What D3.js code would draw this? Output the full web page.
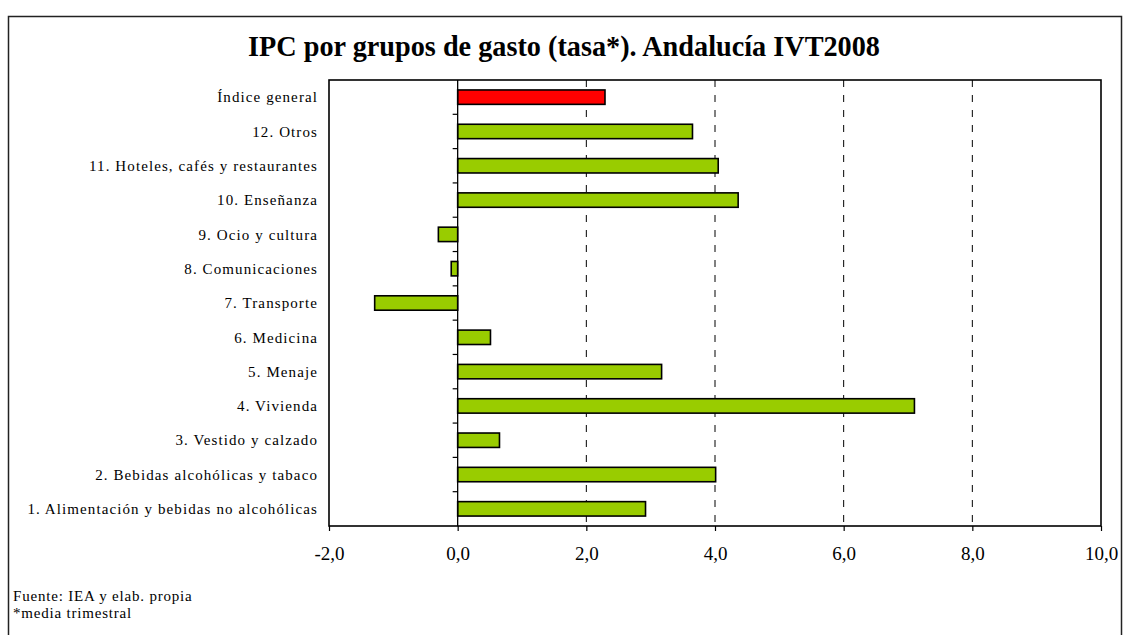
<!DOCTYPE html>
<html>
<head>
<meta charset="utf-8">
<script src="https://cdn.jsdelivr.net/npm/d3@7"></script>
<style>
  html, body { margin: 0; padding: 0; background: #fff; }
  svg { display: block; }
</style>
</head>
<body>
<svg id="chart" width="1123" height="635"></svg>
<script>
// Grupos de gasto, de arriba a abajo
const categories = [
  "Índice general",
  "12. Otros",
  "11. Hoteles, cafés y restaurantes",
  "10. Enseñanza",
  "9. Ocio y cultura",
  "8. Comunicaciones",
  "7. Transporte",
  "6. Medicina",
  "5. Menaje",
  "4. Vivienda",
  "3. Vestido y calzado",
  "2. Bebidas alcohólicas y tabaco",
  "1. Alimentación y bebidas no alcohólicas"
];
// Tasa (media trimestral), %
const values = [2.29, 3.65, 4.05, 4.36, -0.30, -0.10, -1.29, 0.51, 3.17, 7.10, 0.65, 4.01, 2.92];
const xTicks = [-2, 0, 2, 4, 6, 8, 10];
const xTickLabels = ["-2,0", "0,0", "2,0", "4,0", "6,0", "8,0", "10,0"];
const gridValues = [2, 4, 6, 8];
const titleText = "IPC por grupos de gasto (tasa*). Andalucía IVT2008";
const footnotes = ["Fuente: IEA y elab. propia", "*media trimestral"];

const svg = d3.select("#chart");
const serif = "'Liberation Serif', 'Times New Roman', serif";

// Marco exterior
svg.append("rect")
  .attr("x", 8.5).attr("y", 16.5)
  .attr("width", 1113).attr("height", 630)
  .attr("fill", "none").attr("stroke", "#222").attr("stroke-width", 1.5);

// Título
svg.append("text")
  .attr("x", 564).attr("y", 56)
  .attr("text-anchor", "middle")
  .attr("font-family", serif)
  .attr("font-weight", "bold")
  .attr("font-size", 29)
  .attr("textLength", 632)
  .attr("lengthAdjust", "spacingAndGlyphs")
  .text(titleText);

const plot = { left: 329, right: 1101, top: 80, bottom: 526 };

const x = d3.scaleLinear().domain([-2, 10]).range([plot.left, plot.right]);
const y = d3.scaleBand().domain(categories)
  .range([plot.top, plot.bottom])
  .paddingInner(0.58).paddingOuter(0.29);

// Líneas de división discontinuas
svg.append("g").selectAll("line").data(gridValues).join("line")
  .attr("x1", d => x(d)).attr("x2", d => x(d))
  .attr("y1", plot.top).attr("y2", plot.bottom)
  .attr("stroke", "#000").attr("stroke-width", 1)
  .attr("stroke-dasharray", "7,8");

// Barras
svg.append("g").selectAll("rect").data(values).join("rect")
  .attr("x", d => x(Math.min(0, d)))
  .attr("width", d => Math.abs(x(d) - x(0)))
  .attr("y", (d, i) => y(categories[i]))
  .attr("height", y.bandwidth())
  .attr("fill", (d, i) => i === 0 ? "#ff0000" : "#99cc00")
  .attr("stroke", "#000").attr("stroke-width", 1.6);

// Eje de categorías en el cero
svg.append("line")
  .attr("x1", x(0)).attr("x2", x(0))
  .attr("y1", plot.top).attr("y2", plot.bottom)
  .attr("stroke", "#000").attr("stroke-width", 1.3);

const step = y.step();
const boundaries = categories.slice(0, -1).map(c => y(c) + y.bandwidth() / 2 + step / 2);
svg.append("g").selectAll("line").data(boundaries).join("line")
  .attr("x1", x(0) - 5).attr("x2", x(0))
  .attr("y1", d => d).attr("y2", d => d)
  .attr("stroke", "#000").attr("stroke-width", 1.2);

// Borde del área de trazado
svg.append("rect")
  .attr("x", plot.left).attr("y", plot.top)
  .attr("width", plot.right - plot.left).attr("height", plot.bottom - plot.top)
  .attr("fill", "none").attr("stroke", "#000").attr("stroke-width", 1.6);

// Eje X
const xAxis = d3.axisBottom(x)
  .tickValues(xTicks)
  .tickSize(5)
  .tickPadding(16)
  .tickFormat((d, i) => xTickLabels[i]);
const gx = svg.append("g")
  .attr("transform", `translate(0,${plot.bottom})`)
  .call(xAxis);
gx.select(".domain").remove();
gx.selectAll(".tick line").attr("stroke", "#000").attr("stroke-width", 1.2);
gx.selectAll(".tick text")
  .attr("font-family", serif)
  .attr("font-size", 19)
  .attr("fill", "#000");

// Etiquetas de categoría
svg.append("g").selectAll("text").data(categories).join("text")
  .attr("x", 318)
  .attr("y", d => y(d) + y.bandwidth() / 2)
  .attr("dy", "0.35em")
  .attr("text-anchor", "end")
  .attr("font-family", serif)
  .attr("font-size", 15)
  .attr("letter-spacing", 1.1)
  .attr("fill", "#000")
  .text(d => d);

// Notas al pie
svg.append("g").selectAll("text").data(footnotes).join("text")
  .attr("x", 13)
  .attr("y", (d, i) => 601 + i * 17)
  .attr("font-family", serif)
  .attr("font-size", 15)
  .attr("letter-spacing", 0.8)
  .attr("fill", "#000")
  .text(d => d);
</script>
</body>
</html>
